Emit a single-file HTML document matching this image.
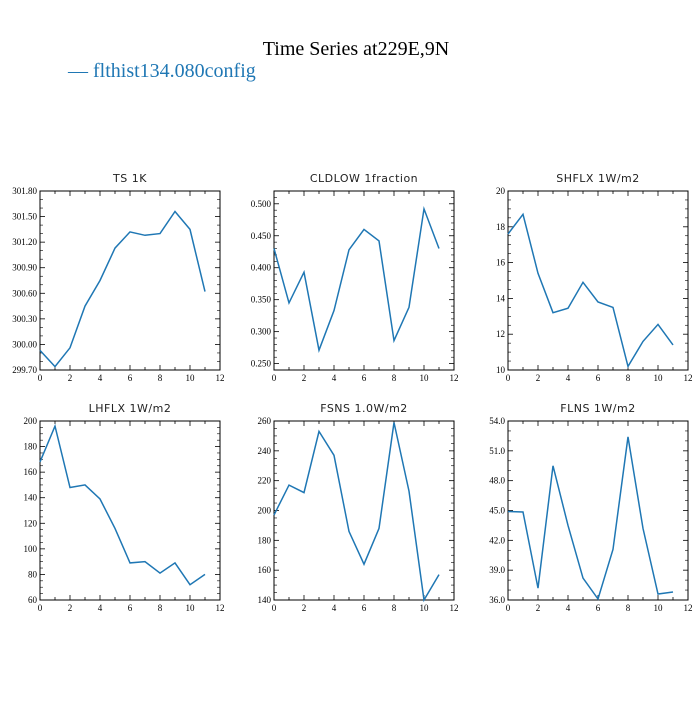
<!DOCTYPE html>
<html><head><meta charset="utf-8"><style>
body{margin:0;background:#fff;width:700px;height:700px;overflow:hidden}
svg text{font-family:"Liberation Serif",serif}
</style></head><body>
<svg id="c" width="700" height="700" xmlns="http://www.w3.org/2000/svg">
<text x="356" y="55" text-anchor="middle" font-size="20">Time Series at229E,9N</text>
<text x="68" y="77" font-size="20" fill="#1f77b4">— flthist134.080config</text>
</svg>
<script>
const months=[0,1,2,3,4,5,6,7,8,9,10,11];
const xTicks=[0,2,4,6,8,10,12];
const tsVals=[299.93,299.74,299.96,300.45,300.75,301.13,301.32,301.28,301.30,301.56,301.35,300.62];
const cldVals=[0.430,0.345,0.393,0.271,0.333,0.428,0.460,0.442,0.286,0.338,0.492,0.430];
const shVals=[17.6,18.7,15.4,13.2,13.45,14.9,13.8,13.5,10.2,11.6,12.55,11.4];
const lhVals=[168,196,148,150,139,116,89,90,81,89,72,80];
const fsVals=[197,217,212,253,237,186,164,188,259,213,140,157];
const flVals=[44.9,44.85,37.2,49.5,43.5,38.2,36.1,41.1,52.4,43.2,36.6,36.8];
const tsTicks=[299.70,300.00,300.30,300.60,300.90,301.20,301.50,301.80];
const cldTicks=[0.250,0.300,0.350,0.400,0.450,0.500];
const shTicks=[10,12,14,16,18,20];
const lhTicks=[60,80,100,120,140,160,180,200];
const fsTicks=[140,160,180,200,220,240,260];
const flTicks=[36,39,42,45,48,51,54];
const panels=[
 {name:'ts',title:'TS   1K',x:40,y:191,vals:tsVals,ticks:tsTicks,min:299.7,max:301.8,dec:2,minor:3},
 {name:'cldlow',title:'CLDLOW   1fraction',x:274,y:191,vals:cldVals,ticks:cldTicks,min:0.24,max:0.52,dec:3,minor:5},
 {name:'shflx',title:'SHFLX   1W/m2',x:508,y:191,vals:shVals,ticks:shTicks,min:10,max:20,dec:0,minor:4},
 {name:'lhflx',title:'LHFLX   1W/m2',x:40,y:421,vals:lhVals,ticks:lhTicks,min:60,max:200,dec:0,minor:4},
 {name:'fsns',title:'FSNS   1.0W/m2',x:274,y:421,vals:fsVals,ticks:fsTicks,min:140,max:260,dec:0,minor:4},
 {name:'flns',title:'FLNS   1W/m2',x:508,y:421,vals:flVals,ticks:flTicks,min:36,max:54,dec:1,minor:3}
];
const W=180,H=179,NS='http://www.w3.org/2000/svg',svg=document.getElementById('c');
function mk(t,a,p){const e=document.createElementNS(NS,t);for(const k in a)e.setAttribute(k,a[k]);(p||svg).appendChild(e);return e;}
panels.forEach(p=>{
 const g=mk('g',{});
 
 
 const sx=v=>p.x+v/12*W, sy=v=>p.y+H-(v-p.min)/(p.max-p.min)*H;
 const t=mk('text',{x:p.x+W/2,y:p.y-9,'text-anchor':'middle','font-size':'11','font-family':'DejaVu Sans, sans-serif','fill':'#222','letter-spacing':'0.5'},g);
 t.textContent=p.title;
 
 
 t.style.fontFamily='"DejaVu Sans",sans-serif';
 const r=mk('rect',{x:p.x,y:p.y,width:W,height:H,fill:'none',stroke:'#000','stroke-width':'1'},g);
 
 
 // x ticks
 for(let m=0;m<=12;m++){const X=sx(m);const L=m%2==0?5:3;
  mk('line',{x1:X,x2:X,y1:p.y+H,y2:p.y+H-L,stroke:'#000','stroke-width':'0.8'},g);
  mk('line',{x1:X,x2:X,y1:p.y,y2:p.y+L,stroke:'#000','stroke-width':'0.8'},g);}
 xTicks.forEach(v=>{const l=mk('text',{x:sx(v),y:p.y+H+11,'text-anchor':'middle','font-size':'9'},g);l.textContent=v;
  
  });
 // y ticks
 const step=p.ticks[1]-p.ticks[0];
 for(let i=0;i<p.ticks.length;i++){const v=p.ticks[i];const Y=sy(v);
  mk('line',{x1:p.x,x2:p.x+5,y1:Y,y2:Y,stroke:'#000','stroke-width':'0.8'},g);
  mk('line',{x1:p.x+W,x2:p.x+W-5,y1:Y,y2:Y,stroke:'#000','stroke-width':'0.8'},g);
  for(let k=1;k<p.minor;k++){const mv=v+step*k/p.minor;if(mv>p.max)break;const My=sy(mv);
   mk('line',{x1:p.x,x2:p.x+3,y1:My,y2:My,stroke:'#000','stroke-width':'0.6'},g);
   mk('line',{x1:p.x+W,x2:p.x+W-3,y1:My,y2:My,stroke:'#000','stroke-width':'0.6'},g);}
  const l=mk('text',{x:p.x-3,y:Y+3,'text-anchor':'end','font-size':'9'},g);l.textContent=v.toFixed(p.dec);
  
  }
 const pts=months.map((m,i)=>sx(m).toFixed(1)+','+sy(p.vals[i]).toFixed(1)).join(' ');
 const pl=mk('polyline',{points:pts,fill:'none',stroke:'#1f77b4','stroke-width':'1.5'},g);
 
 
});
</script>
</body></html>
